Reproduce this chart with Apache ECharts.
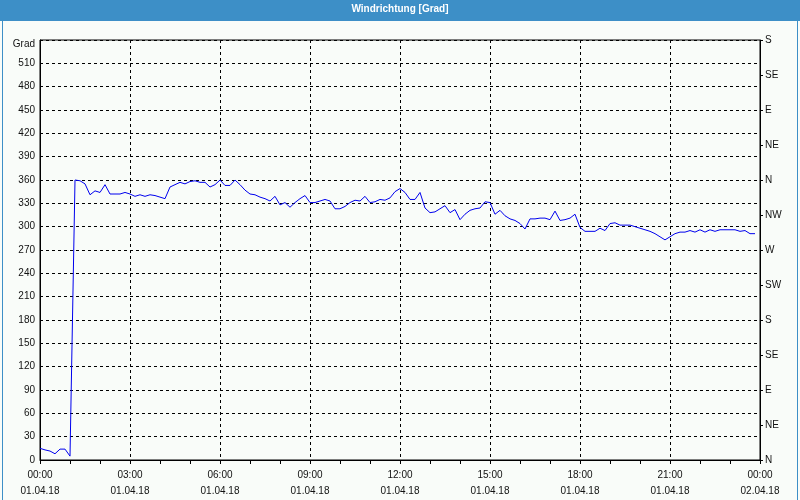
<!DOCTYPE html>
<html>
<head>
<meta charset="utf-8">
<script src="https://cdn.jsdelivr.net/npm/echarts@6/dist/echarts.min.js"></script>
<style>
html,body{margin:0;padding:0;background:#f9fcf9;}
#chart{width:800px;height:500px;}
</style>
</head>
<body>
<div id="chart"></div>
<script>
// ---- data ----
const chartTitle = 'Windrichtung [Grad]';
const startDate = '01.04.18';
const endDate = '02.04.18';
const stepMinutes = 10; // one reading every 10 minutes, starting 00:00
const windDir = [
  15, 13, 11.5, 8, 14, 14, 5, 360, 359, 355,
  341, 346, 344, 354, 342, 342, 342, 344, 342, 339,
  341, 339, 341, 340, 338, 336, 351, 354, 357, 355,
  358, 359, 357, 357, 351, 354, 360, 353, 353, 360,
  354, 347, 342, 341, 338, 336, 333, 339, 328, 331,
  325, 331, 336, 340, 331, 331, 333, 335, 333, 323,
  323, 326, 331, 334, 333, 339, 331, 332, 335, 334,
  337, 345, 349, 344, 335, 335, 344, 324, 318, 319,
  323, 327, 318, 322, 309, 316, 321, 323, 324, 332,
  331, 316, 321, 314, 310, 308, 304, 297, 310, 310,
  311, 311, 309, 320, 308, 309, 311, 316, 299, 294,
  294, 294, 298, 295, 304, 305, 302, 302, 302, 300,
  298, 296, 294, 291, 287, 283, 287, 291, 293, 293,
  295, 293, 296, 293, 296, 294, 296, 296, 296, 296,
  294, 295, 291, 291
];
const leftTopLabel = 'Grad';
const compassLabels = ['N','NE','E','SE','S','SW','W','NW','N','NE','E','SE','S'];

// ---- build ----
const seriesData = windDir.map((v, i) => [i * stepMinutes / 60, v]);
const pad = n => (n < 10 ? '0' : '') + n;
const FONT = 'Liberation Sans';
const TXT = '#111';

const chart = echarts.init(document.getElementById('chart'), null, {renderer: 'canvas'});
chart.setOption({
  backgroundColor: '#f9fcf9',
  animation: false,
  textStyle: {fontFamily: FONT},
  graphic: [
    {type: 'rect', left: 0, top: 0, shape: {width: 800, height: 21}, style: {fill: '#3d8fc7'}, z: 100},
    {type: 'text', left: 'center', top: 4, style: {text: chartTitle, fill: '#fff', font: 'bold 10px "Liberation Sans"'}, z: 101},
    {type: 'rect', left: 0, top: 0, shape: {x: 0.5, y: 0.5, width: 795, height: 499}, style: {fill: 'none', stroke: '#3d8fc7', lineWidth: 1}, z: 99}
  ],
  grid: {left: 40, right: 40, top: 40, bottom: 40, show: true, borderColor: '#000', borderWidth: 1, backgroundColor: 'transparent'},
  xAxis: {
    type: 'value', min: 0, max: 24, interval: 3,
    axisLine: {show: true, lineStyle: {color: '#000', width: 1}},
    axisTick: {show: true, length: 4, lineStyle: {color: '#000'}},
    minorTick: {show: true, splitNumber: 3, length: 4, lineStyle: {color: '#000'}},
    splitLine: {show: true, lineStyle: {color: '#000', type: [3, 3], width: 1}},
    axisLabel: {
      fontFamily: FONT, fontSize: 10, color: TXT, margin: 7, lineHeight: 16,
      formatter: v => v >= 24 ? '00:00\n' + endDate : pad(v) + ':00\n' + startDate
    }
  },
  yAxis: [
    {
      type: 'value', min: 0, max: 540, interval: 30, position: 'left',
      axisLine: {show: true, lineStyle: {color: '#000'}},
      axisTick: {show: false},
      splitLine: {show: true, lineStyle: {color: '#000', type: [3, 3], width: 1}},
      axisLabel: {
        fontFamily: FONT, fontSize: 10, color: TXT, margin: 5,
        formatter: v => v === 540 ? '{g|' + leftTopLabel + '}' : String(v),
        rich: {g: {fontFamily: FONT, fontSize: 10, color: TXT, padding: [9, 0, 0, 0]}}
      }
    },
    {
      type: 'value', min: 0, max: 540, interval: 45, position: 'right',
      axisLine: {show: true, lineStyle: {color: '#000'}},
      axisTick: {show: true, length: 3, lineStyle: {color: '#000'}},
      splitLine: {show: false},
      axisLabel: {
        fontFamily: FONT, fontSize: 10, color: TXT, margin: 5,
        formatter: v => compassLabels[Math.round(v / 45)]
      }
    }
  ],
  series: [{
    type: 'line', data: seriesData, yAxisIndex: 0,
    showSymbol: false, symbol: 'none',
    lineStyle: {color: '#0000ee', width: 1},
    z: 10
  }]
});
</script>
</body>
</html>
